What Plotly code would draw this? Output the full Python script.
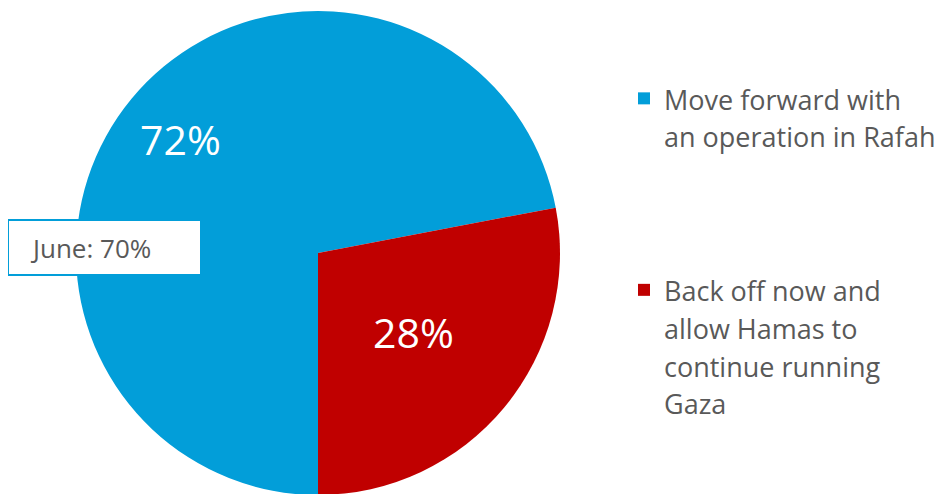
import math
import plotly.graph_objects as go

labels = ["Move forward with<br>an operation in Rafah<br> <br> <br> ",
          "Back off now and<br>allow Hamas to<br>continue running<br>Gaza"]
values = [72, 28]
colors = ["#029ED9", "#C00000"]
june_note = "June: 70%"

W, H = 947, 494
OFF = 8  # page body margin
cx, cy, r = 318 - OFF, 253 - OFF, 242
label_radius = [0.74, 0.51]

fig = go.Figure(go.Pie(
    labels=[f'<span style="font-size:27px">{t}</span>' for t in labels],
    values=values,
    sort=False,
    direction="clockwise",
    rotation=180,
    marker=dict(colors=colors, line=dict(width=0)),
    textinfo="none",
    domain=dict(x=[(cx - r) / W, (cx + r) / W], y=[1 - (cy + r) / H, 1 - (cy - r) / H]),
    hoverinfo="label+percent",
))

# percentage labels placed at each slice's mid angle
total = sum(values)
start = 180.0
for v, fr in zip(values, label_radius):
    sweep = v / total * 360
    mid = math.radians(start + sweep / 2)
    px = cx + fr * r * math.sin(mid)
    py = cy - fr * r * math.cos(mid)
    fig.add_annotation(text=f"{round(v / total * 100)}%", xref="paper", yref="paper",
                       x=px / W, y=1 - py / H, xanchor="center", yanchor="middle",
                       showarrow=False,
                       font=dict(family="Open Sans", size=41, color="white"))
    start += sweep

# "June" callout box
bx0, bx1, by0, by1 = 8 - OFF, 201 - OFF, 220 - OFF, 275 - OFF
fig.add_shape(type="rect", xref="paper", yref="paper",
              x0=bx0 / W, x1=bx1 / W, y0=1 - by1 / H, y1=1 - by0 / H,
              line=dict(color=colors[0], width=2), fillcolor="white", layer="above")
fig.add_annotation(
    text=june_note, xref="paper", yref="paper",
    x=(28 - OFF) / W, y=1 - ((by0 + by1) / 2) / H, xanchor="left", yanchor="middle",
    showarrow=False, align="left",
    font=dict(family="Open Sans", size=26, color="#595959"),
)

fig.update_layout(
    width=W, height=H,
    margin=dict(l=0, r=0, t=0, b=0),
    paper_bgcolor="white", plot_bgcolor="white",
    font=dict(family="Open Sans", color="#595959"),
    legend=dict(x=(624 - OFF) / W, y=1 - (73 - OFF) / H, xanchor="left", yanchor="top",
                valign="top", font=dict(size=29, color="#595959"),
                bgcolor="rgba(0,0,0,0)"),
    showlegend=True,
)

fig.write_html("out.html")
